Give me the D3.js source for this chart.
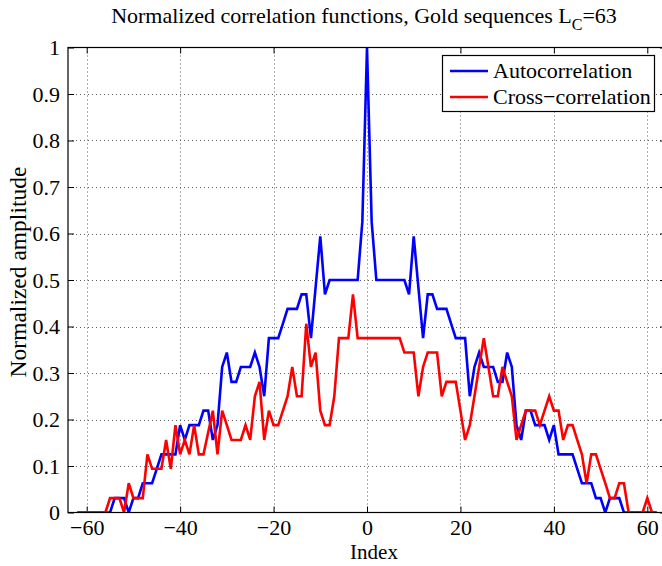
<!DOCTYPE html>
<html>
<head>
<meta charset="utf-8">
<script src="https://cdn.jsdelivr.net/npm/d3@7"></script>
<style>
  html, body { margin: 0; padding: 0; background: #fff; }
  svg text { font-family: "Liberation Serif", "Times New Roman", serif !important; fill: #000; }
</style>
</head>
<body>
<svg id="chart" width="662" height="566"></svg>
<script>
// Lags of the correlation functions (code length 63 -> lags -62..62)
const lags = d3.range(-62, 63);

// Normalized periodic autocorrelation of a Gold sequence
const autocorrelation = [
  0, 0, 0, 0, 0, 0, 0, 0,
  0.031, 0.031, 0.031, 0, 0.031, 0.031, 0.063, 0.063, 0.063, 0.094,
  0.125, 0.125, 0.125, 0.125, 0.188, 0.156, 0.188, 0.188, 0.188, 0.219,
  0.219, 0.156, 0.188, 0.313, 0.344, 0.281, 0.281, 0.313, 0.313, 0.313,
  0.344, 0.313, 0.25, 0.375, 0.375, 0.375, 0.406, 0.438, 0.438, 0.438,
  0.469, 0.469, 0.375, 0.484, 0.594, 0.469, 0.5, 0.5, 0.5, 0.5,
  0.5, 0.5, 0.5, 0.625,
  1,
  0.625, 0.5, 0.5, 0.5,
  0.5, 0.5, 0.5, 0.5, 0.469, 0.594, 0.484, 0.375, 0.469, 0.469,
  0.438, 0.438, 0.438, 0.406, 0.375, 0.375, 0.375, 0.25, 0.313, 0.344,
  0.313, 0.313, 0.313, 0.281, 0.281, 0.344, 0.313, 0.188, 0.156, 0.219,
  0.219, 0.188, 0.188, 0.188, 0.156, 0.188, 0.125, 0.125, 0.125, 0.125,
  0.094, 0.063, 0.063, 0.063, 0.031, 0.031, 0, 0.031, 0.031, 0.031,
  0, 0, 0, 0, 0, 0, 0, 0
];

// Normalized cross-correlation between two Gold sequences of the family
const crosscorrelation = [
  0, 0, 0, 0, 0, 0, 0,
  0.031, 0.031, 0.031, 0, 0.063, 0.031, 0.031, 0.031, 0.125, 0.094,
  0.094, 0.094, 0.156, 0.094, 0.188, 0.125, 0.156, 0.125, 0.188, 0.125,
  0.125, 0.172, 0.219, 0.125, 0.219, 0.188, 0.156, 0.156, 0.156, 0.188,
  0.156, 0.25, 0.281, 0.156, 0.219, 0.188, 0.188, 0.219, 0.25, 0.313,
  0.25, 0.25, 0.406, 0.313, 0.344, 0.219, 0.188, 0.188, 0.25, 0.375,
  0.375, 0.375, 0.469, 0.375, 0.375,
  0.375,
  0.375, 0.375, 0.375, 0.375, 0.375, 0.375, 0.375, 0.344, 0.344, 0.344,
  0.25, 0.313, 0.344, 0.344, 0.344, 0.25, 0.281, 0.281, 0.281, 0.219,
  0.156, 0.188, 0.25, 0.313, 0.375, 0.313, 0.25, 0.25, 0.313, 0.281,
  0.25, 0.156, 0.188, 0.219, 0.219, 0.219, 0.188, 0.219, 0.25, 0.219,
  0.219, 0.156, 0.188, 0.188, 0.156, 0.125, 0.063, 0.125, 0.125, 0.094,
  0.063, 0.031, 0.031, 0.063, 0.063, 0, 0, 0, 0, 0.031,
  0, 0
];

const xTicks = [-60, -40, -20, 0, 20, 40, 60];
const yTicks = [0, 0.1, 0.2, 0.3, 0.4, 0.5, 0.6, 0.7, 0.8, 0.9, 1];
const seriesNames = ["Autocorrelation", "Cross\u2212correlation"];
const seriesColors = ["#0000ff", "#ff0000"];

const svg = d3.select("#chart");
const W = 662, H = 566;
const plot = { left: 68, right: 666, top: 47.5, bottom: 512.5 };
const FS = 22;

svg.append("rect").attr("width", W).attr("height", H).attr("fill", "#fff");

const x = d3.scaleLinear().domain([-64, 64]).range([plot.left, plot.right]);
const y = d3.scaleLinear().domain([0, 1]).range([plot.bottom, plot.top]);

const fmtY = d => d === 0 ? "0" : d === 1 ? "1" : d3.format(".1f")(d);
const fmtX = d => d < 0 ? "\u2212" + Math.abs(d) : String(d);

// dotted grid
const grid = svg.append("g").attr("stroke", "#5e5e5e").attr("stroke-width", 1)
  .attr("stroke-dasharray", "1,3");
xTicks.forEach(t => {
  grid.append("line").attr("x1", Math.round(x(t)) + 0.5).attr("x2", Math.round(x(t)) + 0.5)
    .attr("y1", plot.top).attr("y2", plot.bottom);
});
yTicks.filter(t => t > 0 && t < 1).forEach(t => {
  grid.append("line").attr("y1", Math.round(y(t)) + 0.5).attr("y2", Math.round(y(t)) + 0.5)
    .attr("x1", plot.left).attr("x2", plot.right);
});

// axes with inward ticks on all four sides
const tickLen = 6;
const axB = svg.append("g").attr("transform", `translate(0,${plot.bottom})`)
  .call(d3.axisBottom(x).tickValues(xTicks).tickSizeInner(-tickLen).tickSizeOuter(0).tickPadding(7).tickFormat(fmtX));
const axT = svg.append("g").attr("transform", `translate(0,${plot.top})`)
  .call(d3.axisTop(x).tickValues(xTicks).tickSizeInner(-tickLen).tickSizeOuter(0).tickFormat(""));
const axL = svg.append("g").attr("transform", `translate(${plot.left},0)`)
  .call(d3.axisLeft(y).tickValues(yTicks).tickSizeInner(-tickLen).tickSizeOuter(0).tickPadding(8).tickFormat(fmtY));
const axR = svg.append("g").attr("transform", `translate(${plot.right},0)`)
  .call(d3.axisRight(y).tickValues(yTicks).tickSizeInner(-tickLen).tickSizeOuter(0).tickFormat(""));
[axB, axT, axL, axR].forEach(a => {
  a.attr("font-family", null);
  a.select(".domain").remove();
  a.selectAll("line").attr("stroke", "#000");
  a.selectAll("text").attr("font-size", FS).attr("fill", "#000");
});
axB.selectAll("text").attr("dy", "0.7em");
axL.selectAll("text").attr("dy", "0.34em");

// data lines
svg.append("clipPath").attr("id", "clip").append("rect")
  .attr("x", plot.left).attr("y", plot.top - 2)
  .attr("width", plot.right - plot.left).attr("height", plot.bottom - plot.top + 2);

const line = d3.line().x(d => x(d[0])).y(d => y(d[1]));
const series = [autocorrelation, crosscorrelation];
series.forEach((vals, i) => {
  svg.append("path")
    .datum(lags.map((l, j) => [l, vals[j]]))
    .attr("clip-path", "url(#clip)")
    .attr("fill", "none")
    .attr("stroke", seriesColors[i])
    .attr("stroke-width", 2.6)
    .attr("stroke-linejoin", "miter")
    .attr("d", line);
});

// frame
svg.append("rect").attr("x", plot.left).attr("y", plot.top)
  .attr("width", plot.right - plot.left).attr("height", plot.bottom - plot.top)
  .attr("fill", "none").attr("stroke", "#000").attr("stroke-width", 1.2);

// title with subscript
const title = svg.append("text").attr("x", 364).attr("y", 23)
  .attr("text-anchor", "middle").attr("font-size", FS);
title.append("tspan").text("Normalized correlation functions, Gold sequences L");
title.append("tspan").attr("font-size", 16).attr("dy", 7).text("C");
title.append("tspan").attr("dy", -7).text("=63");

// axis labels
svg.append("text").attr("x", 374).attr("y", 559).attr("text-anchor", "middle")
  .attr("font-size", 21).text("Index");
svg.append("text").attr("transform", "translate(26,272) rotate(-90)")
  .attr("text-anchor", "middle").attr("font-size", 23.5).text("Normalized amplitude");

// legend
const lg = svg.append("g");
lg.append("rect").attr("x", 442.5).attr("y", 55.5).attr("width", 212).attr("height", 56)
  .attr("fill", "#fff").attr("stroke", "#000").attr("stroke-width", 1.2);
seriesNames.forEach((name, i) => {
  const cy = 71 + i * 26;
  lg.append("line").attr("x1", 450).attr("x2", 488).attr("y1", cy).attr("y2", cy)
    .attr("stroke", seriesColors[i]).attr("stroke-width", 2.6);
  lg.append("text").attr("x", 493).attr("y", cy + 7).attr("font-size", FS).text(name);
});
</script>
</body>
</html>
